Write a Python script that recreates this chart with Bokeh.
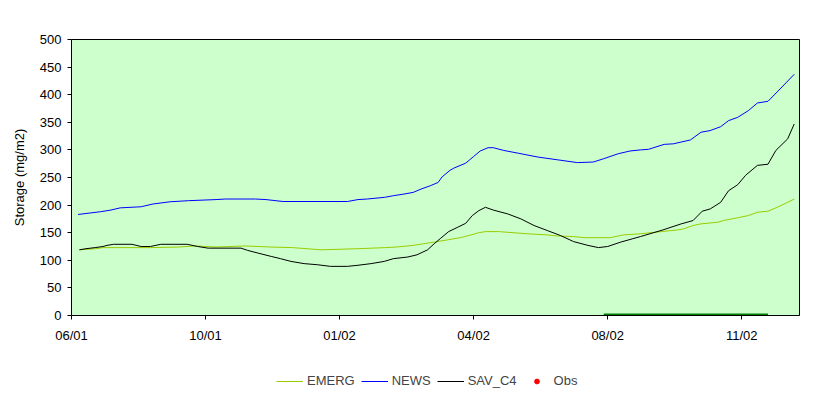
from bokeh.plotting import figure
from bokeh.layouts import column
from bokeh.models import Legend, LegendItem, FixedTicker, Range1d
from bokeh.embed import file_html
from bokeh.resources import INLINE

# Days since the first tick (06/01); ticks are every 102 days
tick_days = [0, 102, 204, 306, 408, 510]
tick_labels = ["06/01", "10/01", "01/02", "04/02", "08/02", "11/02"]

news_day = [5, 22, 30, 37, 53, 62, 75, 89, 110, 117, 140, 148, 161, 210, 218, 225, 238, 245,
            253, 260, 266, 273, 279, 282, 288, 291, 300, 306, 311, 317, 321, 329, 340, 355,
            370, 385, 397, 405, 416, 425, 433, 439, 451, 458, 471, 479, 486, 494, 500, 507,
            515, 522, 530, 537, 550]
news_val = [183, 188, 191, 195, 197, 202, 206, 208, 210, 211, 211, 210, 206.5, 206.5, 210, 211,
            214, 217, 220, 223, 229, 235, 241, 251, 263, 267, 276, 288, 298, 304, 304, 299, 294,
            287, 282, 277, 278, 284, 293, 298, 300, 301, 310, 311, 318, 332, 335, 342, 353, 359,
            371, 385, 388, 405, 437]

sav_day = [6, 11, 18, 24, 27, 32, 46, 53, 60, 68, 88, 96, 104, 129, 134, 142, 152, 159, 167,
           177, 187, 197, 210, 218, 228, 238, 245, 256, 263, 271, 276, 281, 287, 294, 300, 305,
           310, 315, 321, 332, 342, 352, 362, 372, 382, 393, 401, 408, 418, 427, 433, 450, 464,
           473, 480, 486, 494, 500, 507, 513, 522, 530, 536, 545, 550]
sav_val = [119, 121, 123, 125, 127, 129, 129, 125, 125, 129, 129, 125, 122, 122, 118, 113, 107,
           103, 98, 94, 92, 89, 89, 91, 94, 98, 103, 106, 110, 119, 130, 140, 152, 160, 167, 181,
           190, 196, 191, 184, 175, 163, 154, 145, 134, 127, 123, 125, 133, 139, 143, 155, 166,
           172, 189, 193, 205, 226, 237, 254, 272, 274, 299, 320, 347]

emerg_day = [6, 18, 24, 60, 81, 94, 110, 132, 152, 168, 190, 218, 239, 247, 260, 268, 276, 286,
             296, 304, 310, 315, 325, 347, 362, 370, 382, 390, 410, 420, 433, 461, 466, 473, 479,
             492, 496, 507, 515, 522, 530, 537, 545, 550]
emerg_val = [119, 121, 123, 123, 124, 126, 124, 126, 124, 123, 119, 121, 123, 124, 127, 130,
             133, 137, 141, 146, 150, 152, 152, 148, 146, 144, 143, 141, 141, 146, 148, 155, 157,
             163, 166, 169, 172, 177, 181, 187, 189, 196, 205, 211]

obs_period_day = [405, 530]
obs_period_val = [0, 0]
obs_day = [float("nan")]   # no observations visible in the chart
obs_val = [float("nan")]

series_names = ["EMERG", "NEWS", "SAV_C4", "Obs"]
series_colors = ["#99CC00", "#0000FF", "black", "red"]

FONT = "Liberation Sans"

p = figure(width=832, height=345, output_backend="svg", toolbar_location=None,
           x_range=Range1d(0, 554), y_range=Range1d(0, 500),
           min_border_left=71, min_border_right=33, min_border_top=39, min_border_bottom=30)

p.background_fill_color = "#CCFFCC"
p.border_fill_color = "white"
p.outline_line_color = "black"
p.outline_line_width = 1
p.grid.visible = False

p.line(emerg_day, emerg_val, line_color=series_colors[0], line_width=1)
p.line(news_day, news_val, line_color=series_colors[1], line_width=1)
p.line(sav_day, sav_val, line_color=series_colors[2], line_width=1)
p.scatter(obs_day, obs_val, color=series_colors[3], size=4)
p.line(obs_period_day, obs_period_val, line_color="#008000", line_width=4)

p.xaxis.ticker = FixedTicker(ticks=tick_days)
p.xaxis.major_label_overrides = {d: l for d, l in zip(tick_days, tick_labels)}
p.yaxis.ticker = FixedTicker(ticks=list(range(0, 501, 50)))
for ax in (p.xaxis, p.yaxis):
    ax.minor_tick_line_color = None
    ax.major_tick_in = 0
    ax.major_tick_out = 4
    ax.axis_line_color = "black"
    ax.major_tick_line_color = "black"
    ax.major_label_text_font = FONT
    ax.major_label_text_font_size = "13px"
    ax.major_label_text_color = "black"
p.xaxis.major_label_standoff = 8
p.yaxis.major_label_standoff = 6
p.yaxis.axis_label = "Storage (mg/m2)"
p.yaxis.axis_label_text_font = FONT
p.yaxis.axis_label_text_font_size = "13px"
p.yaxis.axis_label_text_font_style = "normal"
p.yaxis.axis_label_text_color = "black"
p.yaxis.axis_label_standoff = 10

# Legend strip below the chart
lg = figure(width=832, height=54, output_backend="svg", toolbar_location=None,
            x_range=Range1d(0, 1), y_range=Range1d(0, 1),
            min_border_left=0, min_border_right=0, min_border_top=0, min_border_bottom=0)
lg.axis.visible = False
lg.grid.visible = False
lg.outline_line_color = None
lg.background_fill_color = "white"
lg.border_fill_color = "white"
nan = [float("nan")]
l_em = lg.line(nan, nan, line_color=series_colors[0], line_width=1)
l_nw = lg.line(nan, nan, line_color=series_colors[1], line_width=1)
l_sv = lg.line(nan, nan, line_color=series_colors[2], line_width=1)
l_ob = lg.scatter(nan, nan, color=series_colors[3], size=4)

legend = Legend(items=[LegendItem(label=n, renderers=[r])
                       for n, r in zip(series_names, [l_em, l_nw, l_sv, l_ob])],
                orientation="horizontal", location=(205, 11),
                label_text_font=FONT, label_text_font_size="13px",
                glyph_width=27, glyph_height=12, spacing=6, label_standoff=4,
                padding=0, margin=0, border_line_alpha=0, background_fill_alpha=0)
lg.add_layout(legend, "center")

layout = column(p, lg, spacing=0)
open("out.html", "w").write(file_html(layout, INLINE))
